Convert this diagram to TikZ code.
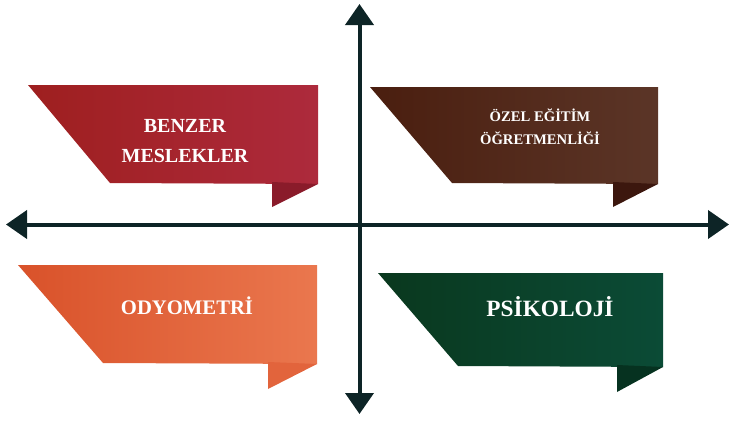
\documentclass[tikz,border=0pt]{standalone}
\usepackage{fontspec}
\setmainfont{Liberation Serif}
\usetikzlibrary{arrows.meta}
\definecolor{axiscol}{HTML}{0D2426}
\definecolor{redL}{HTML}{9E1F1F}
\definecolor{redR}{HTML}{AD2A3C}
\definecolor{redF}{HTML}{8A1B2A}
\definecolor{brnL}{HTML}{4A1E0F}
\definecolor{brnR}{HTML}{5B3527}
\definecolor{brnF}{HTML}{3C170E}
\definecolor{orgL}{HTML}{D9522A}
\definecolor{orgR}{HTML}{EA774E}
\definecolor{orgF}{HTML}{E2643C}
\definecolor{grnL}{HTML}{0A381E}
\definecolor{grnR}{HTML}{0B4B36}
\definecolor{grnF}{HTML}{063220}
\tikzset{
  axisline/.style={draw=axiscol, line width=3pt, -{Triangle[length=15.75pt,width=21pt]}},
  bantext/.style={text=white, font=\bfseries, align=center, inner sep=0pt},
}
\begin{document}
\begin{tikzpicture}[x=0.75pt,y=-0.75pt]
\useasboundingbox (0,0) rectangle (729,421);
% banner 1
\shade[left color=redL, right color=redR] (28,85) -- (318,85) -- (318,184) -- (110,183) -- cycle;
\fill[redF] (272,182) -- (318,184) -- (272,207) -- cycle;
% banner 2
\shade[left color=brnL, right color=brnR] (370,87) -- (658,87) -- (658,184) -- (452,183) -- cycle;
\fill[brnF] (613,182) -- (658,184) -- (613,207) -- cycle;
% banner 3
\shade[left color=orgL, right color=orgR] (18,265) -- (317,265) -- (317,364) -- (103,363) -- cycle;
\fill[orgF] (268,362) -- (317,364) -- (268,389) -- cycle;
% banner 4
\shade[left color=grnL, right color=grnR] (378,273) -- (663,273) -- (663,367) -- (458,366) -- cycle;
\fill[grnF] (617,365) -- (663,367) -- (617,392) -- cycle;
% texts
\node[bantext, font=\bfseries\fontsize{15}{22}\selectfont] (t1) at (185,141) {BENZER\\MESLEKLER};
\node[bantext, font=\bfseries\fontsize{11}{17}\selectfont] (t2) at (540,127) {ÖZEL EĞİTİM\\ÖĞRETMENLİĞİ};
\node[bantext, font=\bfseries\fontsize{15.5}{20}\selectfont] (t3) at (187,306) {ODYOMETRİ};
\node[bantext, font=\bfseries\fontsize{17.5}{22}\selectfont] (t4) at (550,307) {PSİKOLOJİ};
% axes
\coordinate (cx) at (359.5,224.5);
\coordinate (left) at (6,224.5);
\coordinate (right) at (729,224.5);
\coordinate (top) at (359.5,4);
\coordinate (bottom) at (359.5,414);
\draw[axisline] (cx) -- (left);
\draw[axisline] (cx) -- (right);
\draw[axisline] (cx) -- (top);
\draw[axisline] (cx) -- (bottom);
\end{tikzpicture}
\end{document}
